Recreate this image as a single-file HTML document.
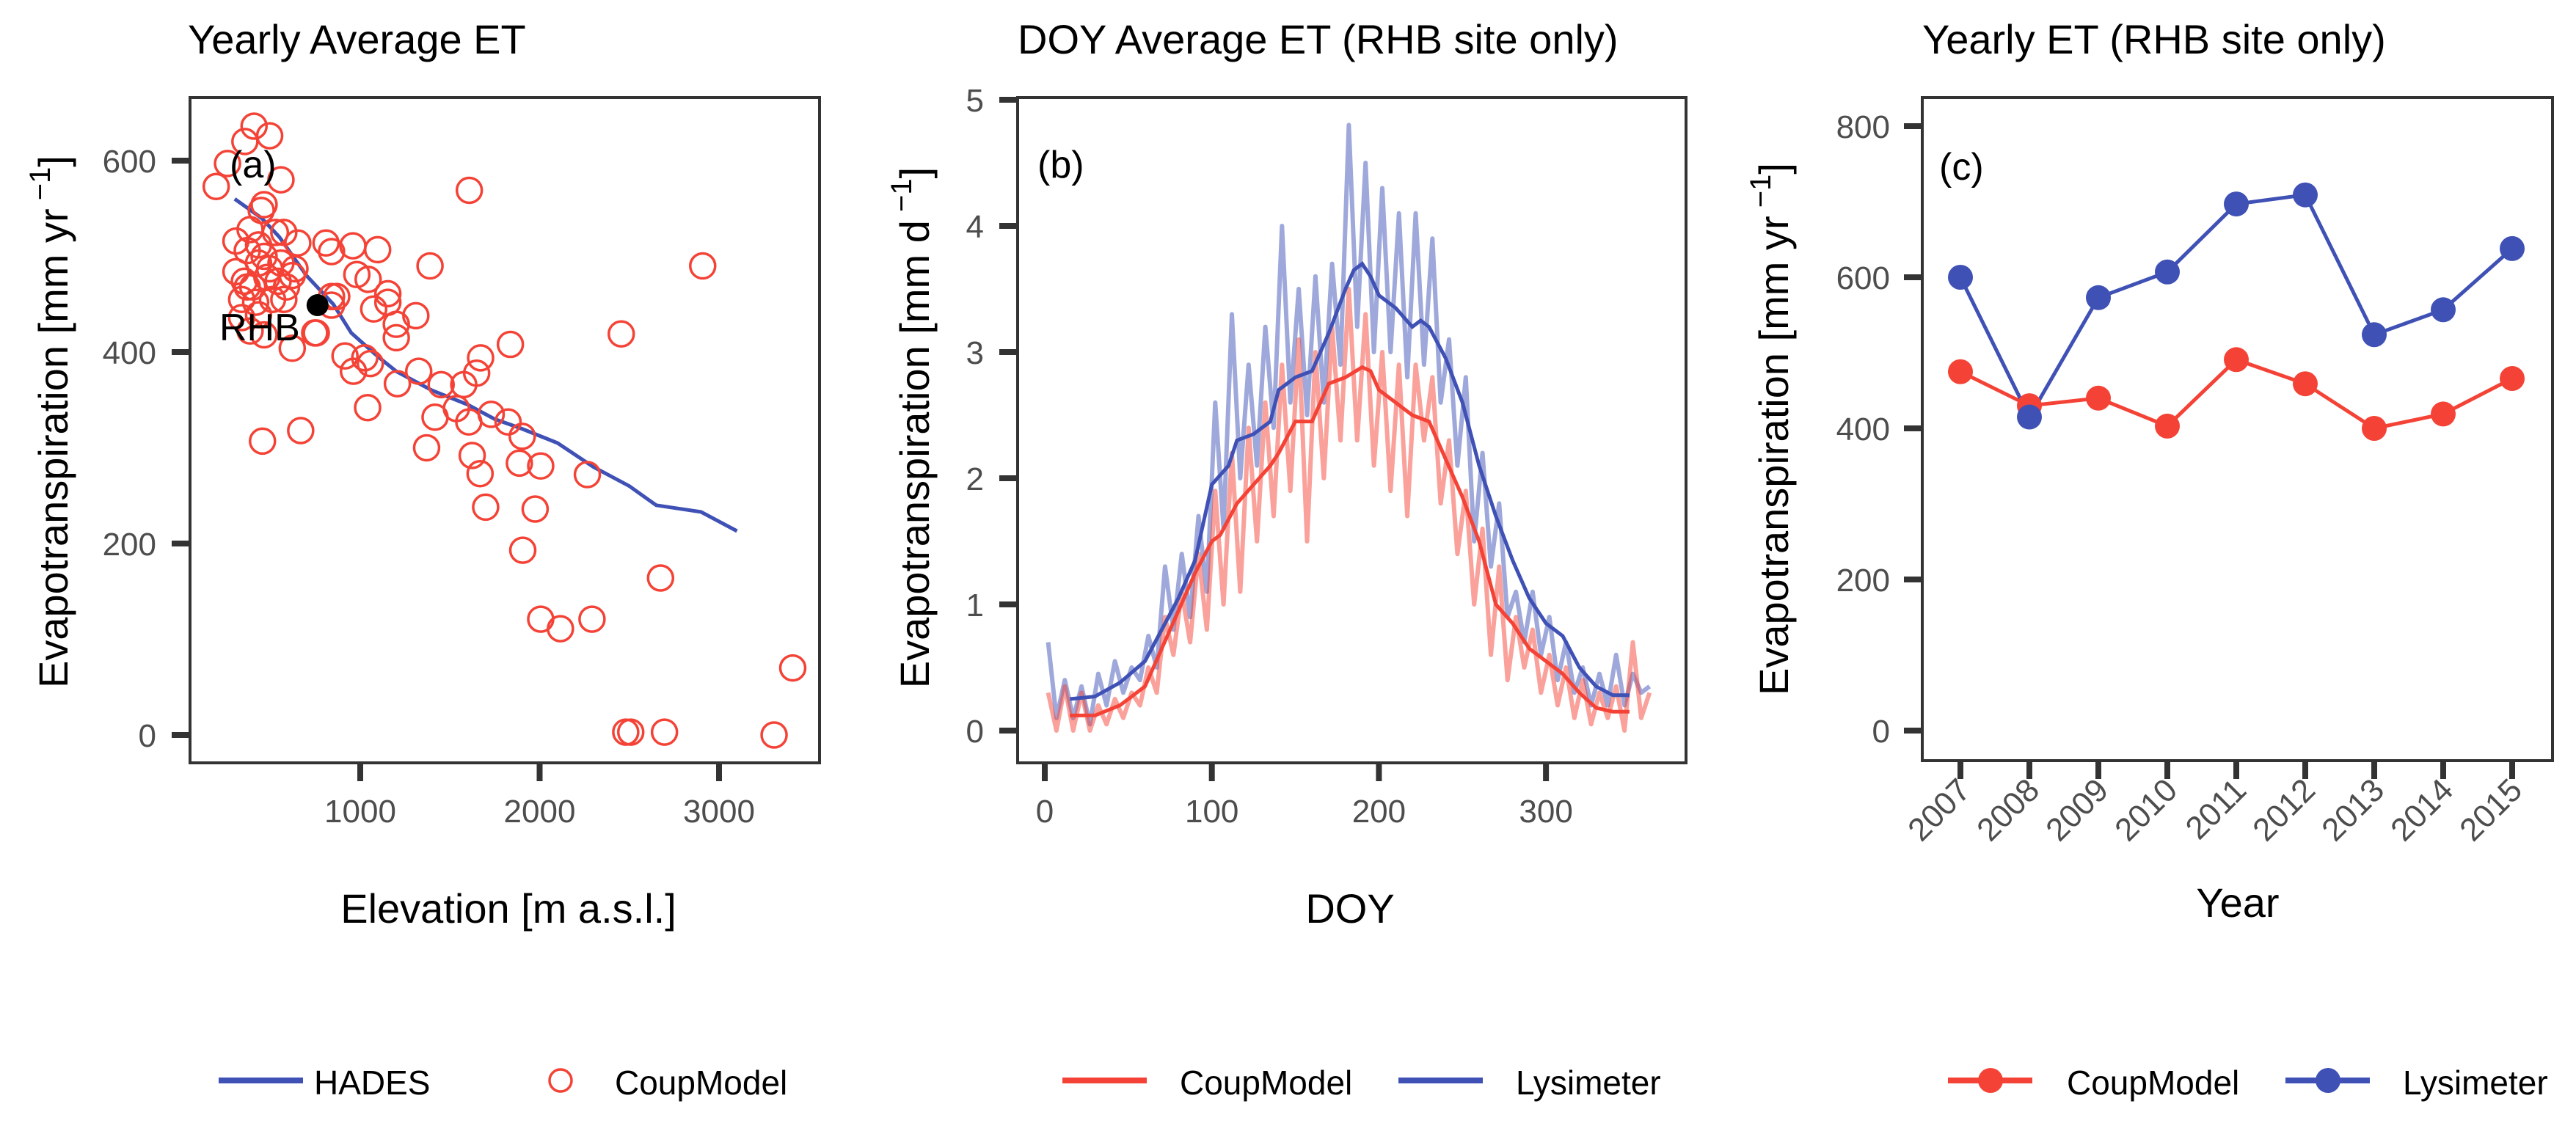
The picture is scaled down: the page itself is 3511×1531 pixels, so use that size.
<!DOCTYPE html>
<html><head><meta charset="utf-8"><style>
html,body{margin:0;padding:0;background:#fff;}
svg{display:block;font-family:"Liberation Sans",Arial,sans-serif;}
</style></head><body>
<svg id="fig" width="3511" height="1531" viewBox="0 0 3511 1531" xmlns="http://www.w3.org/2000/svg">
<rect width="3511" height="1531" fill="#fff"/>
<g id="pa"></g>
<g id="pb"></g>
<g id="pc"></g>
<g id="legends"></g>
</svg>
<script>
// ---------- Panel A data ----------
const hadesElev = [300,450,550,700,850,950,1100,1200,1400,1600,1750,1900,2100,2300,2500,2650,2900,3100];
const hadesET   = [560,540,520,480,450,420,395,380,360,345,330,320,305,280,260,240,233,213];
const coupElev = [197,260,408,495,357,558,1608,464,448,307,574,652,809,840,959,1097,1389,981,1044,1154,1154,1075,1201,1201,1310,869,840,746,621,915,1025,962,1056,1041,1207,1326,1451,1577,1671,1649,1837,2455,2909,1536,1417,1605,1730,1824,1903,1370,1624,1668,1887,2006,2266,1699,1975,1906,2674,2006,2116,2292,3411,2480,2508,2696,3307,455,668,386,464,755,307,354,401,433,464,495,542,589,621,339,417,511,574,636,370,433,527,386,480,370,558,339,433,840];
const coupET   = [573,597,636,626,620,580,569,554,548,516,525,514,514,505,511,507,490,481,476,461,452,445,429,415,438,458,449,420,404,396,394,380,388,342,367,380,366,366,394,378,408,419,490,341,332,327,335,327,312,300,292,273,284,281,272,238,236,193,164,121,111,121,70,3,3,3,0,307,318,422,418,420,484,474,468,493,500,487,474,468,480,455,452,455,455,487,506,512,525,528,478,468,493,436,439,458];
const rhbElev = [762];
const rhbET = [449];
const aYTicks = [0,200,400,600];
const aXTicks = [1000,2000,3000];

// ---------- Panel B data ----------
const smoothDays = [15,30,45,60,70,80,90,100,110,115,125,135,140,150,160,170,180,185,190,195,200,210,220,225,230,240,250,260,270,280,290,300,310,320,330,340,350];
const lysSmooth = [0.25,0.27,0.38,0.55,0.8,1.05,1.35,1.95,2.1,2.3,2.35,2.45,2.7,2.8,2.85,3.15,3.5,3.65,3.7,3.6,3.45,3.35,3.2,3.25,3.2,2.95,2.6,2.1,1.7,1.35,1.05,0.85,0.75,0.5,0.35,0.28,0.28];
const coupSmoothDays = [15,30,45,60,70,80,90,100,105,115,125,135,140,150,160,170,180,190,195,200,210,220,230,240,250,260,270,280,290,300,310,320,330,340,350];
const coupSmooth = [0.12,0.12,0.2,0.35,0.65,0.95,1.25,1.5,1.55,1.8,1.95,2.1,2.2,2.45,2.45,2.75,2.8,2.88,2.85,2.7,2.6,2.5,2.45,2.15,1.85,1.5,1.0,0.85,0.65,0.55,0.45,0.3,0.18,0.15,0.15];
const rawStartDay = 2, rawStepDays = 5;
const lysRaw = [0.7,0.1,0.4,0.1,0.35,0.05,0.45,0.2,0.55,0.3,
0.5,0.4,0.75,0.5,1.3,0.8,1.4,0.9,1.7,1.1,
2.6,1.6,3.3,2.0,2.9,2.1,3.2,2.4,4.0,2.6,
3.5,2.5,3.6,2.6,3.7,2.9,4.8,3.2,4.5,3.0,
4.3,3.0,4.1,2.8,4.1,2.9,3.9,2.6,3.1,2.1,
2.8,1.5,2.2,1.3,1.8,0.9,1.1,0.7,1.1,0.6,
0.9,0.4,0.7,0.3,0.5,0.2,0.45,0.2,0.6,0.2,
0.45,0.3,0.35];
const coupRaw = [0.3,0.0,0.35,0.0,0.3,0.0,0.2,0.05,0.25,0.1,
0.3,0.2,0.5,0.3,0.9,0.6,1.1,0.7,1.4,0.8,
1.9,1.0,2.2,1.1,2.4,1.5,2.6,1.7,2.9,1.9,
3.1,1.5,3.0,2.0,3.2,2.3,3.5,2.3,3.3,2.1,
3.0,1.9,2.9,1.7,2.9,2.3,2.8,1.8,2.3,1.4,
1.9,1.0,1.6,0.6,1.3,0.4,0.9,0.5,0.8,0.3,
0.6,0.2,0.5,0.1,0.4,0.05,0.3,0.1,0.35,0.0,
0.7,0.1,0.3];
const bYTicks = [0,1,2,3,4,5];
const bXTicks = [0,100,200,300];

// ---------- Panel C data ----------
const years = ["2007","2008","2009","2010","2011","2012","2013","2014","2015"];
const lysYearly = [600,415,573,607,697,709,524,557,638];
const coupYearly = [475,430,440,403,491,459,400,419,466];
const cYTicks = [0,200,400,600,800];

const RED = "#F44336", BLUE = "#3F51B5", FRAME = "#333333", TICKC = "#4D4D4D";
const NS = "http://www.w3.org/2000/svg";
function mk(parent, tag, attrs, text) {
  const e = document.createElementNS(NS, tag);
  for (const k in attrs) e.setAttribute(k, attrs[k]);
  if (text !== undefined) e.textContent = text;
  parent.appendChild(e);
  return e;
}
function pathD(xs, ys) { return xs.map((x, i) => (i ? "L" : "M") + x.toFixed(1) + " " + ys[i].toFixed(1)).join(" "); }

function frame(g, L, T, R, B) {
  const r = mk(g, "rect", {x: L, y: T, width: R - L, height: B - T, fill: "none", stroke: FRAME, "stroke-width": 4});
  
  
}
function yTicks(g, ticks, sy, L, labelX) {
  ticks.forEach(v => {
    const y = sy(v);
    const t = mk(g, "line", {x1: L - 25, x2: L, y1: y, y2: y, stroke: FRAME, "stroke-width": 8});
    
    
    const l = mk(g, "text", {x: labelX, y: y + 16, "text-anchor": "end", "font-size": 44, fill: TICKC}, String(v));
    
    
  });
}
function xTicks(g, ticks, sx, B, labelY, noLabels) {
  ticks.forEach(v => {
    const x = sx(v);
    const t = mk(g, "line", {x1: x, x2: x, y1: B, y2: B + 25, stroke: FRAME, "stroke-width": 8});
    
    
    if (!noLabels) {
      const l = mk(g, "text", {x: x, y: labelY, "text-anchor": "middle", "font-size": 44, fill: TICKC}, String(v));
      
      
    }
  });
}
function yTitle(g, cx, cy, unit) {
  const t = mk(g, "text", {x: 0, y: 0, transform: `translate(${cx},${cy}) rotate(-90)`, "text-anchor": "middle", "font-size": 56, fill: "#000"});
  
  
  mk(t, "tspan", {}, "Evapotranspiration [" + unit + "\u2009");
  mk(t, "tspan", {dy: -24, "font-size": 40}, "\u22121");
  mk(t, "tspan", {dy: 24}, "]");
}
function title(g, x, y, text) {
  const t = mk(g, "text", {x: x, y: y, "font-size": 56, fill: "#000"}, text);
  
  
}

// ---------- Panel A ----------
(function () {
  const g = document.getElementById("pa");
  const L = 259, T = 133, R = 1117, B = 1040;
  const sx = e => 491 + (e - 1000) * 0.2445;
  const sy = v => 1002 - v * 1.305;
  title(g, 256, 73, "Yearly Average ET");
  const hl = mk(g, "path", {d: pathD(hadesElev.map(sx), hadesET.map(sy)), fill: "none", stroke: BLUE, "stroke-width": 5});
  
  
  coupElev.forEach((e, i) => {
    const c = mk(g, "circle", {cx: sx(e), cy: sy(coupET[i]), r: 17, fill: "none", stroke: RED, "stroke-width": 3.5});
    
    
  });
  const rhb = mk(g, "circle", {cx: sx(rhbElev[0]), cy: sy(rhbET[0]), r: 15, fill: "#000"});
  
  
  const rl = mk(g, "text", {x: sx(rhbElev[0]) - 24, y: sy(rhbET[0]) + 48, "text-anchor": "end", "font-size": 52, fill: "#000"}, "RHB");
  
  
  const pl = mk(g, "text", {x: 313, y: 242, "font-size": 52, fill: "#000"}, "(a)");
  
  
  frame(g, L, T, R, B);
  yTicks(g, aYTicks, sy, L, 213);
  xTicks(g, aXTicks, sx, B, 1121);
  yTitle(g, 92, 575, "mm yr");
  const xt = mk(g, "text", {x: 693, y: 1258, "text-anchor": "middle", "font-size": 56, fill: "#000"}, "Elevation [m a.s.l.]");
  
  
})();

// ---------- Panel B ----------
(function () {
  const g = document.getElementById("pb");
  const L = 1387, T = 133, R = 2298, B = 1040;
  const sx = d => 1424 + d * 2.277;
  const sy = v => 996 - v * 172;
  title(g, 1387, 73, "DOY Average ET (RHB site only)");
  const rawDays = lysRaw.map((_, i) => rawStartDay + i * rawStepDays);
  const lr = mk(g, "path", {d: pathD(rawDays.map(sx), lysRaw.map(sy)), fill: "none", stroke: BLUE, "stroke-opacity": 0.5, "stroke-width": 6, "stroke-linejoin": "round"});
  
  
  const cr = mk(g, "path", {d: pathD(rawDays.map(sx), coupRaw.map(sy)), fill: "none", stroke: RED, "stroke-opacity": 0.5, "stroke-width": 6, "stroke-linejoin": "round"});
  
  
  const ls = mk(g, "path", {d: pathD(smoothDays.map(sx), lysSmooth.map(sy)), fill: "none", stroke: BLUE, "stroke-width": 5});
  
  
  const cs = mk(g, "path", {d: pathD(coupSmoothDays.map(sx), coupSmooth.map(sy)), fill: "none", stroke: RED, "stroke-width": 5});
  
  
  const pl = mk(g, "text", {x: 1414, y: 242, "font-size": 52, fill: "#000"}, "(b)");
  
  
  frame(g, L, T, R, B);
  yTicks(g, bYTicks, sy, L, 1341);
  xTicks(g, bXTicks, sx, B, 1121);
  yTitle(g, 1266, 583, "mm d");
  const xt = mk(g, "text", {x: 1840, y: 1258, "text-anchor": "middle", "font-size": 56, fill: "#000"}, "DOY");
  
  
})();

// ---------- Panel C ----------
(function () {
  const g = document.getElementById("pc");
  const L = 2620, T = 133, R = 3479, B = 1037;
  const sx = i => 2672 + i * 94;
  const sy = v => 996 - v * 1.03;
  title(g, 2620, 73, "Yearly ET (RHB site only)");
  const idx = years.map((_, i) => i);
  const cl = mk(g, "path", {d: pathD(idx.map(sx), coupYearly.map(sy)), fill: "none", stroke: RED, "stroke-width": 5});
  
  
  const ll = mk(g, "path", {d: pathD(idx.map(sx), lysYearly.map(sy)), fill: "none", stroke: BLUE, "stroke-width": 5});
  
  
  coupYearly.forEach((v, i) => {
    const c = mk(g, "circle", {cx: sx(i), cy: sy(v), r: 17, fill: RED});
    
    
  });
  lysYearly.forEach((v, i) => {
    const c = mk(g, "circle", {cx: sx(i), cy: sy(v), r: 17, fill: BLUE});
    
    
  });
  const pl = mk(g, "text", {x: 2643, y: 245, "font-size": 52, fill: "#000"}, "(c)");
  
  
  frame(g, L, T, R, B);
  yTicks(g, cYTicks, sy, L, 2576);
  xTicks(g, idx, sx, B, 0, true);
  years.forEach((y, i) => {
    const t = mk(g, "text", {x: 0, y: 0, transform: `translate(${sx(i) + 16},${1080}) rotate(-45)`, "text-anchor": "end", "font-size": 44, fill: TICKC}, y);
    
    
  });
  yTitle(g, 2437, 585, "mm yr");
  const xt = mk(g, "text", {x: 3050, y: 1250, "text-anchor": "middle", "font-size": 56, fill: "#000"}, "Year");
  
  
})();

// ---------- Legends ----------
(function () {
  const g = document.getElementById("legends");
  const LY = 1473, TY = 1492;
  function lineKey(x1, color, dot, name) {
    const l = mk(g, "line", {x1: x1, x2: x1 + 115, y1: LY, y2: LY, stroke: color, "stroke-width": 8});
    
    
    if (dot) {
      const c = mk(g, "circle", {cx: x1 + 58, cy: LY, r: 17, fill: color});
      
      
    }
  }
  function label(x, text, name) {
    const t = mk(g, "text", {x: x, y: TY, "font-size": 46, fill: "#000"}, text);
    
    
  }
  lineKey(298, BLUE, false, 'hades');
  label(428, "HADES", 'hades');
  const oc = mk(g, "circle", {cx: 764, cy: LY, r: 15, fill: "none", stroke: RED, "stroke-width": 3.5});
  
  
  label(838, "CoupModel", 'coupmodel-a');
  lineKey(1448, RED, false, 'coupmodel-b');
  label(1608, "CoupModel", 'coupmodel-b');
  lineKey(1906, BLUE, false, 'lysimeter-b');
  label(2066, "Lysimeter", 'lysimeter-b');
  lineKey(2655, RED, true, 'coupmodel-c');
  label(2817, "CoupModel", 'coupmodel-c');
  lineKey(3115, BLUE, true, 'lysimeter-c');
  label(3275, "Lysimeter", 'lysimeter-c');
})();
</script>
</body></html>
